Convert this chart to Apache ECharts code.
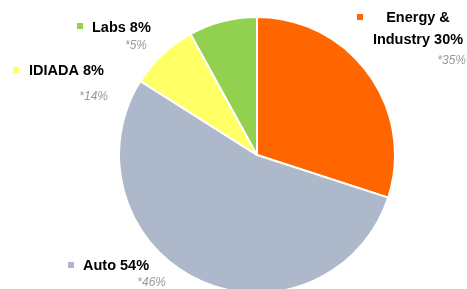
<!DOCTYPE html>
<html>
<head>
<meta charset="utf-8">
<script src="https://cdn.jsdelivr.net/npm/echarts@6/dist/echarts.min.js"></script>
<style>html,body{margin:0;padding:0;background:#fff}</style>
</head>
<body>
<div id="chart" style="width:467px;height:289px"></div>
<script>
// slice data, clockwise from 12 o'clock
var names = ['Energy & Industry', 'Auto', 'IDIADA', 'Labs'];
var shares = [30, 54, 8, 8];
var oldShares = [35, 46, 14, 5];
var colors = ['#FF6600', '#ADB9CA', '#FFFF66', '#92D050'];

var mainFont = 'bold 14.5px "Liberation Sans", Arial, sans-serif';
var subFont = 'italic 12px "Liberation Sans", Arial, sans-serif';

// label placement: marker box, main text, sub text
var spots = [
    {mx: 357, my: 14, tx: 418, ty: 29, align: 'center', sx: 466, sy: 61},
    {mx: 68, my: 262, tx: 83, ty: 266, align: 'left', sx: 166, sy: 283},
    {mx: 13, my: 67, tx: 29, ty: 71, align: 'left', sx: 108, sy: 97},
    {mx: 77, my: 23, tx: 92, ty: 28, align: 'left', sx: 147, sy: 46}
];

var graphics = [];
names.forEach(function (n, i) {
    var s = spots[i];
    var txt = n + ' ' + shares[i] + '%';
    if (i === 0) txt = 'Energy &\nIndustry ' + shares[i] + '%';
    graphics.push({
        type: 'rect', shape: {x: s.mx, y: s.my, width: 6, height: 6},
        style: {fill: colors[i]}
    });
    graphics.push({
        type: 'text', x: s.tx, y: s.ty,
        style: {text: txt, font: mainFont, fill: '#000', textAlign: s.align,
            textVerticalAlign: 'middle', lineHeight: 22}
    });
    graphics.push({
        type: 'text', x: s.sx, y: s.sy,
        style: {text: '*' + oldShares[i] + '%', font: subFont, fill: '#999',
            textAlign: 'right', textVerticalAlign: 'middle'}
    });
});

var chart = echarts.init(document.getElementById('chart'));
chart.setOption({
    animation: false,
    graphic: graphics,
    series: [{
        type: 'pie',
        center: [257, 155],
        radius: 138,
        startAngle: 90,
        clockwise: true,
        label: {show: false},
        labelLine: {show: false},
        itemStyle: {borderColor: '#fff', borderWidth: 2},
        data: names.map(function (n, i) {
            return {name: n, value: shares[i], itemStyle: {color: colors[i]}};
        })
    }]
});
</script>
</body>
</html>
